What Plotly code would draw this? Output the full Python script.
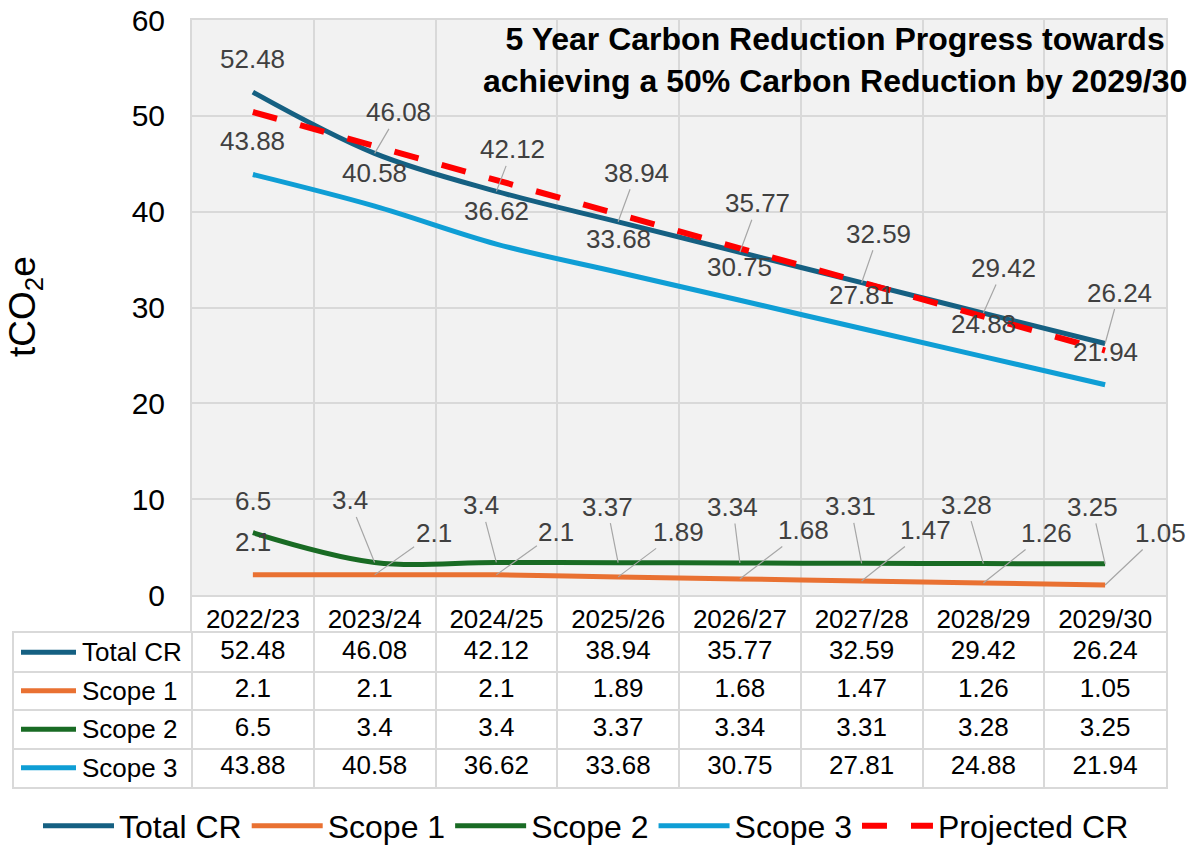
import plotly.graph_objects as go

# ---------------- data ----------------
CATEGORIES = ["2022/23", "2023/24", "2024/25", "2025/26", "2026/27", "2027/28", "2028/29", "2029/30"]
TOTAL_CR = [52.48, 46.08, 42.12, 38.94, 35.77, 32.59, 29.42, 26.24]
SCOPE_1 = [2.1, 2.1, 2.1, 1.89, 1.68, 1.47, 1.26, 1.05]
SCOPE_2 = [6.5, 3.4, 3.4, 3.37, 3.34, 3.31, 3.28, 3.25]
SCOPE_3 = [43.88, 40.58, 36.62, 33.68, 30.75, 27.81, 24.88, 21.94]
PROJECTED_CR = [50.40, 46.85, 43.29, 39.73, 36.18, 32.62, 29.07, 25.51]
Y_TICKS = [0, 10, 20, 30, 40, 50, 60]
SERIES_NAMES = ["Total CR", "Scope 1", "Scope 2", "Scope 3"]
PROJECTED_NAME = "Projected CR"
TITLE_TEXT = "5 Year Carbon Reduction Progress towards<br>achieving a 50% Carbon Reduction by 2029/30"
Y_TITLE = "tCO<sub>2</sub>e"

# ---------------- layout constants ----------------
W, H = 1195, 848
PLOT_L, PLOT_R, PLOT_T, PLOT_B = 192, 1166, 20, 595
HEADER_B = 633
TABLE_L, TABLE_B = 14, 787
COL_W = (PLOT_R - PLOT_L) / len(CATEGORIES)
FONT = "Liberation Sans, Arial, sans-serif"
GRID = "#d9d9d9"
LABEL_COLOR = "#404040"
LEADER_COLOR = "#a6a6a6"
COLORS = ["#156082", "#E97132", "#196B24", "#0F9ED5"]
PROJ_COLOR = "#FF0000"

# label offsets (px, label centre relative to point) and leader-line flags
LABEL_OFFSETS = [
    [(0, -33), (24, -41), (16, -42), (18, -49), (18, -49), (17, -49), (20, -45), (14, -51)],
    [(0, -33), (59, -42), (60, -43), (60, -45), (64, -49), (64, -51), (63, -50), (55, -52)],
    [(0, -32), (-25, -62), (-15, -57), (-11, -56), (-7, -56), (-11, -57), (-17, -59), (-13, -57)],
    [(0, -33)] * 8,
]
LEADERS = [
    [False] + [True] * 7,
    [False] + [True] * 7,
    [False] + [True] * 7,
    [False] * 8,
]


def px(x):
    return x / W


def py(y):
    return (H - y) / H


SERIES = [TOTAL_CR, SCOPE_1, SCOPE_2, SCOPE_3]

fig = go.Figure()

# main lines
for name, vals, col in zip(SERIES_NAMES, SERIES, COLORS):
    fig.add_trace(go.Scatter(
        x=CATEGORIES, y=vals, name=name, mode="lines",
        line=dict(color=col, width=5, shape="spline", smoothing=1),
        xaxis="x", yaxis="y", hoverinfo="skip",
    ))

fig.add_trace(go.Scatter(
    x=CATEGORIES, y=PROJECTED_CR, name=PROJECTED_NAME, mode="lines",
    line=dict(color=PROJ_COLOR, width=6, dash="25px,24px"),
    xaxis="x", yaxis="y", hoverinfo="skip",
))

# dummy trace to create header-row subplot
fig.add_trace(go.Scatter(
    x=CATEGORIES, y=[None] * len(CATEGORIES), mode="lines",
    xaxis="x", yaxis="y3", showlegend=False, hoverinfo="skip",
))

# data table text
ROW_Y = [3.5, 2.5, 1.5, 0.5]
tx, ty, tt = [], [], []
for vals, ry in zip(SERIES, ROW_Y):
    for i, v in enumerate(vals):
        tx.append(i)
        ty.append(ry)
        tt.append(f"{v:g}")
fig.add_trace(go.Scatter(
    x=tx, y=ty, text=tt, mode="text",
    textfont=dict(size=26, color="black", family=FONT),
    xaxis="x2", yaxis="y2", showlegend=False, hoverinfo="skip", cliponaxis=False,
))

annotations = []
# data labels
for vals, offs, leads in zip(SERIES, LABEL_OFFSETS, LEADERS):
    for cat, v, (dx, dy), lead in zip(CATEGORIES, vals, offs, leads):
        base = dict(x=cat, y=v, xref="x", yref="y", text=f"{v:g}",
                    font=dict(size=26, color=LABEL_COLOR, family=FONT))
        if lead:
            base.update(showarrow=True, ax=dx, ay=dy, arrowhead=0,
                        arrowwidth=1.2, arrowcolor=LEADER_COLOR, standoff=0)
        else:
            base.update(showarrow=False, xshift=dx, yshift=-dy)
        annotations.append(base)

# table row labels
for name, ry in zip(SERIES_NAMES, ROW_Y):
    annotations.append(dict(
        x=px(80), y=ry, xref="paper", yref="y2", text=name, showarrow=False,
        xanchor="left", yanchor="middle", font=dict(size=26, color="black", family=FONT),
    ))

# title
annotations.append(dict(
    x=px(835), y=py(60), xref="paper", yref="paper", text=TITLE_TEXT,
    showarrow=False, xanchor="center", yanchor="middle", align="center",
    font=dict(size=32, color="black", family=FONT, weight="bold"),
))
# y axis title
annotations.append(dict(
    x=px(25), y=py(307), xref="paper", yref="paper", text=Y_TITLE,
    showarrow=False, textangle=-90, xanchor="center", yanchor="middle",
    font=dict(size=37, color="black", family=FONT),
))

shapes = [dict(type="rect", xref="x domain", yref="y domain", x0=0, x1=1, y0=0, y1=1,
               fillcolor="#f2f2f2", line=dict(width=0), layer="below")]
for col, ry in zip(COLORS, ROW_Y):
    shapes.append(dict(type="line", xref="paper", yref="y2", x0=px(21), x1=px(76),
                       y0=ry, y1=ry, line=dict(color=col, width=5)))

x2_left = -0.5 - (PLOT_L - TABLE_L) / COL_W

fig.update_layout(
    width=W, height=H, autosize=False,
    margin=dict(l=0, r=0, t=0, b=0, pad=0, autoexpand=False),
    paper_bgcolor="white", plot_bgcolor="white",
    font=dict(family=FONT, color="black"),
    showlegend=True,
    legend=dict(orientation="h", x=px(586), xanchor="center", y=py(826), yanchor="middle",
                font=dict(size=32, color="black", family=FONT), itemwidth=71,
                bgcolor="rgba(0,0,0,0)", traceorder="normal"),
    xaxis=dict(domain=[px(PLOT_L), px(PLOT_R)], type="category", categoryorder="array",
               categoryarray=CATEGORIES, range=[-0.5, len(CATEGORIES) - 0.5],
               tickson="boundaries", showgrid=True, gridcolor=GRID, gridwidth=2,
               showline=True, mirror=True, linecolor=GRID, linewidth=2, ticks="",
               tickfont=dict(size=26, color="black", family=FONT), anchor="y",
               automargin=False, fixedrange=True),
    yaxis=dict(domain=[py(PLOT_B), py(PLOT_T)], range=[0, 60], tickvals=Y_TICKS,
               showgrid=True, gridcolor=GRID, gridwidth=2, showline=True, mirror=True,
               linecolor=GRID, linewidth=2, zeroline=False, ticks="",
               tickfont=dict(size=30, color="black", family=FONT), ticklabelstandoff=19,
               anchor="x", automargin=False, fixedrange=True),
    yaxis3=dict(domain=[py(HEADER_B), py(PLOT_B)], range=[0, 1], showgrid=False,
                showticklabels=False, showline=True, mirror=True, linecolor=GRID,
                linewidth=2, zeroline=False, anchor="x", ticks="", fixedrange=True),
    xaxis2=dict(domain=[px(TABLE_L), px(PLOT_R)], range=[x2_left, len(CATEGORIES) - 0.5],
                tickvals=[i - 0.5 for i in range(len(CATEGORIES))], showgrid=True,
                gridcolor=GRID, gridwidth=2, showticklabels=False, showline=True,
                mirror=True, linecolor=GRID, linewidth=2, zeroline=False, ticks="",
                anchor="y2", fixedrange=True),
    yaxis2=dict(domain=[py(TABLE_B), py(HEADER_B)], range=[0, 4], tickvals=[1, 2, 3],
                showgrid=True, gridcolor=GRID, gridwidth=2, showticklabels=False,
                showline=True, mirror=True, linecolor=GRID, linewidth=2, zeroline=False,
                ticks="", anchor="x2", fixedrange=True),
    annotations=annotations,
    shapes=shapes,
)

fig.write_html("out.html", config={"displayModeBar": False},
               post_script="document.body.style.margin='0px';document.body.style.overflow='hidden';")
